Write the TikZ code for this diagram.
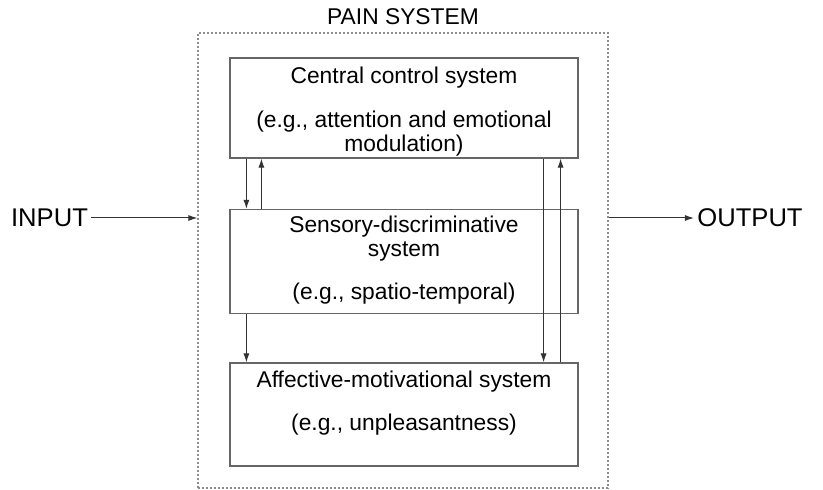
\documentclass[tikz,border=0pt]{standalone}
\usepackage{fontspec}
\setmainfont{Liberation Sans}
\usetikzlibrary{positioning, arrows.meta}

\begin{document}
\begin{tikzpicture}[x=0.5pt,y=-0.5pt,
    font=\fontsize{11.4}{12}\selectfont,
    sysbox/.style={draw=black!60, line width=0.6pt, minimum width=174pt, inner sep=0pt},
    boxtext/.style={align=center, inner sep=0pt, anchor=north},
    outerbox/.style={draw=black!45, line width=0.6pt, dash pattern=on 1pt off 1pt,
                     minimum width=205pt, minimum height=227.5pt, inner sep=0pt},
    ioterm/.style={font=\fontsize{12.8}{14}\selectfont, inner sep=1.5pt},
    flow/.style={-{Latex[length=4.5pt,width=3pt]}, draw=black!80, line width=0.5pt}]

    \useasboundingbox (0,0) rectangle (823,490);

    \node[outerbox] (pain) at (403,260.5) {};
    \node (title) at (403,17) {PAIN SYSTEM};

    \node[sysbox, minimum height=50pt] (central) at (404,108) {};
    \node[sysbox, minimum height=52pt] (sens_disc) at (404,261.5) {};
    \node[sysbox, minimum height=51.5pt] (aff_mot) at (404,414.5) {};

    \node[boxtext, below=4.5pt of central.north] {Central control system\\[10pt]
        (e.g., attention and emotional\\ modulation)};
    \node[boxtext, below=3.5pt of sens_disc.north] {Sensory-discriminative\\ system\\[9.5pt]
        (e.g., spatio-temporal)};
    \node[boxtext, below=4pt of aff_mot.north] {Affective-motivational system\\[9.5pt]
        (e.g., unpleasantness)};

    \node[ioterm] (input) at (49.5,218) {INPUT};
    \node[ioterm] (output) at (750,218) {OUTPUT};

    % links between the systems
    \draw[flow] ([xshift=8.5pt]central.south west) -- ([xshift=8.5pt]sens_disc.north west);
    \draw[flow] ([xshift=16pt]sens_disc.north west) -- ([xshift=16pt]central.south west);
    \draw[flow] ([xshift=8.5pt]sens_disc.south west) -- ([xshift=8.5pt]aff_mot.north west);
    \draw[flow] ([xshift=-17.5pt]central.south east) -- ([xshift=-17.5pt]aff_mot.north east);
    \draw[flow] ([xshift=-9pt]aff_mot.north east) -- ([xshift=-9pt]central.south east);

    % input and output
    \draw[flow] (input.east) -- (input.east -| pain.west);
    \draw[flow] (output.west -| pain.east) -- (output.west);

\end{tikzpicture}
\end{document}
